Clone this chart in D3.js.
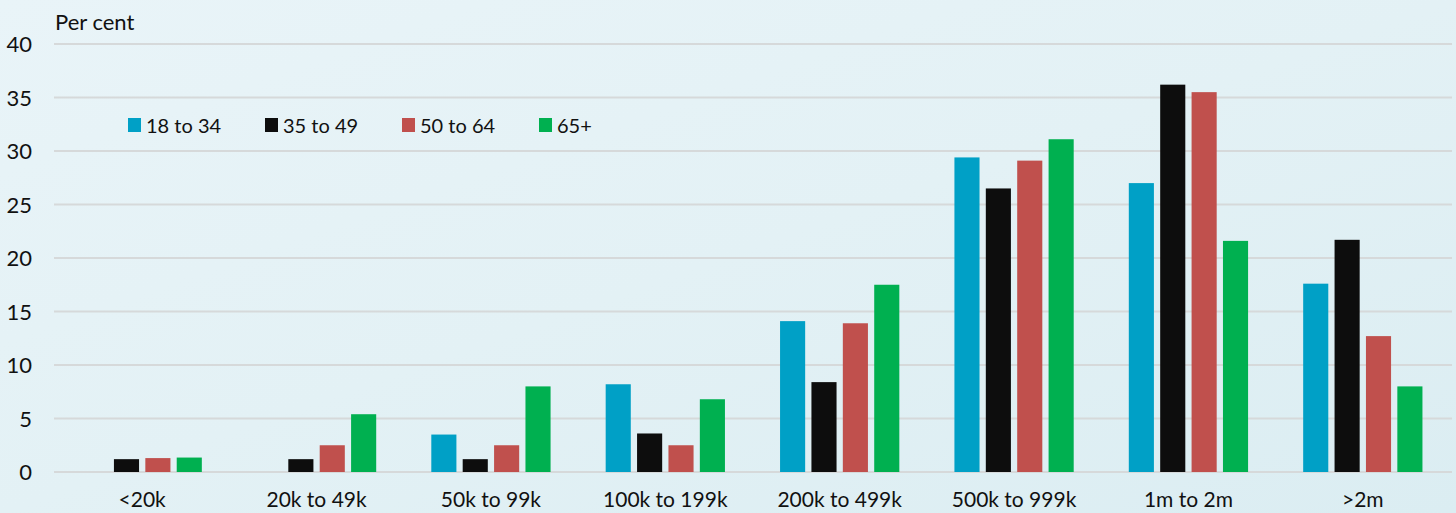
<!DOCTYPE html>
<html>
<head>
<meta charset="utf-8">
<script src="https://cdn.jsdelivr.net/npm/d3@7"></script>
<style>
  html, body { margin: 0; padding: 0; background: #e4f1f6; }
  svg { display: block; }
  text { font-family: Lato, "Open Sans", sans-serif; fill: #111; }
</style>
</head>
<body>
<svg id="chart" width="1456" height="513"></svg>
<script>
const categories = ["<20k", "20k to 49k", "50k to 99k", "100k to 199k", "200k to 499k", "500k to 999k", "1m to 2m", ">2m"];
const seriesNames = ["18 to 34", "35 to 49", "50 to 64", "65+"];
const seriesColors = ["#00a0c6", "#0d0d0d", "#c0504d", "#00b050"];
const age18to34 = [null, null, 3.5, 8.2, 14.1, 29.4, 27.0, 17.6];
const age35to49 = [1.2, 1.2, 1.2, 3.6, 8.4, 26.5, 36.2, 21.7];
const age50to64 = [1.3, 2.5, 2.5, 2.5, 13.9, 29.1, 35.5, 12.7];
const age65plus = [1.35, 5.4, 8.0, 6.8, 17.5, 31.1, 21.6, 8.0];
const yTicks = [0, 5, 10, 15, 20, 25, 30, 35, 40];
const seriesValues = [age18to34, age35to49, age50to64, age65plus];

const svg = d3.select("#chart");
const W = 1456, H = 513;

// background gradient
const defs = svg.append("defs");
const grad = defs.append("linearGradient").attr("id", "bg")
  .attr("x1", "0%").attr("y1", "0%").attr("x2", "100%").attr("y2", "100%");
grad.append("stop").attr("offset", "0%").attr("stop-color", "#e9f4f8");
grad.append("stop").attr("offset", "50%").attr("stop-color", "#e3f1f5");
grad.append("stop").attr("offset", "100%").attr("stop-color", "#dbedf2");
svg.append("rect").attr("width", W).attr("height", H).attr("fill", "url(#bg)");

const mLeft = 55, mRight = 1450, mTop = 44, mBottom = 472;

const y = d3.scaleLinear().domain([0, 40]).range([mBottom, mTop]);
const x0 = d3.scaleBand().domain(categories).range([mLeft, mRight]).paddingInner(0.316).paddingOuter(0.158);
const x1 = d3.scaleBand().domain(seriesNames).range([0, x0.bandwidth()]).paddingInner(0.2);

// gridlines
svg.append("g").selectAll("line").data(yTicks).join("line")
  .attr("x1", mLeft - 1).attr("x2", mRight + 2)
  .attr("y1", d => y(d)).attr("y2", d => y(d))
  .attr("stroke", "#d6d9da").attr("stroke-width", 2);

// y axis labels
const yAxis = d3.axisLeft(y).tickValues(yTicks).tickSize(0).tickPadding(0);
const gy = svg.append("g").attr("transform", `translate(32,0)`).call(yAxis);
gy.select(".domain").remove();
gy.selectAll("text").attr("font-size", 22).attr("font-family", "Lato, 'Open Sans', sans-serif")
  .attr("fill", "#111").attr("dy", "0.35em");

// x axis labels
const xAxis = d3.axisBottom(x0).tickSize(0).tickPadding(0);
const gx = svg.append("g").attr("transform", `translate(0,${mBottom})`).call(xAxis);
gx.select(".domain").remove();
gx.selectAll("text").attr("font-size", 21).attr("font-family", "Lato, 'Open Sans', sans-serif")
  .attr("fill", "#111").attr("y", 35).attr("dy", 0);

// bars
const groups = svg.append("g").selectAll("g").data(categories).join("g")
  .attr("transform", d => `translate(${x0(d)},0)`);
groups.selectAll("rect")
  .data((c, i) => seriesNames.map((s, j) => ({ s, j, v: seriesValues[j][i] })).filter(d => d.v != null))
  .join("rect")
  .attr("x", d => x1(d.s))
  .attr("width", x1.bandwidth())
  .attr("y", d => y(d.v))
  .attr("height", d => y(0) - y(d.v))
  .attr("fill", d => seriesColors[d.j]);

// y title
svg.append("text").attr("x", 55).attr("y", 30).attr("font-size", 22).text("Per cent");

// legend
const legend = svg.append("g").selectAll("g").data(seriesNames).join("g")
  .attr("transform", (d, i) => `translate(${128 + i * 137},0)`);
legend.append("rect").attr("x", 0).attr("y", 118).attr("width", 13).attr("height", 14)
  .attr("fill", (d, i) => seriesColors[i]);
legend.append("text").attr("x", 18).attr("y", 133).attr("font-size", 20).text(d => d);
</script>
</body>
</html>
